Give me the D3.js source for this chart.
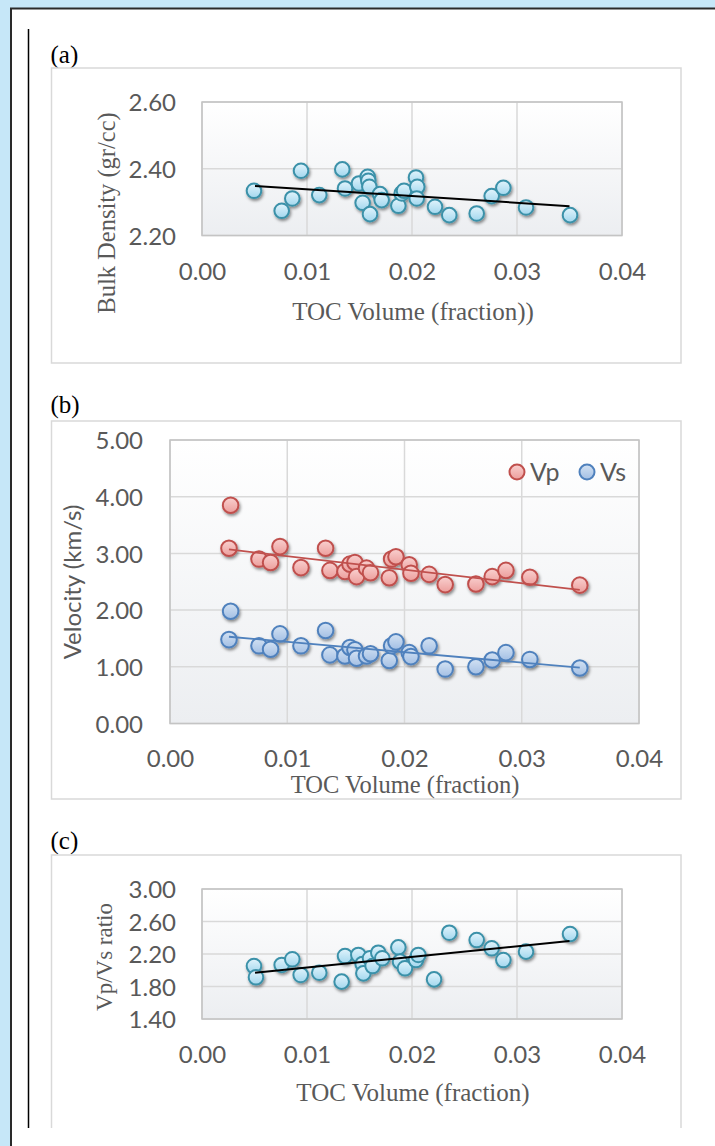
<!DOCTYPE html>
<html>
<head>
<meta charset="utf-8">
<script src="https://cdn.jsdelivr.net/npm/d3@7"></script>
<style>
  html, body { margin: 0; padding: 0; background: #c6e7f8; }
  svg { display: block; }
</style>
</head>
<body>
<script>
// ---------------- DATA ----------------
const xTicks = [0, 0.01, 0.02, 0.03, 0.04];

// (a) Bulk density vs TOC
const densityTOC = [0.00495, 0.00759, 0.0086, 0.00943, 0.01117, 0.01336, 0.01362, 0.01495, 0.0153, 0.01578, 0.01584, 0.01594, 0.016, 0.01695, 0.01711, 0.0187, 0.01902, 0.01924, 0.02038, 0.0205, 0.02045, 0.02219, 0.02355, 0.02616, 0.02759, 0.0287, 0.03086, 0.03505];
const densityValues = [2.334, 2.274, 2.311, 2.394, 2.321, 2.398, 2.341, 2.356, 2.298, 2.376, 2.364, 2.346, 2.264, 2.324, 2.306, 2.289, 2.326, 2.334, 2.374, 2.346, 2.311, 2.286, 2.261, 2.266, 2.318, 2.343, 2.284, 2.261];
const densityTicks = [2.2, 2.4, 2.6];
const densityTrendTOC = [0.00505, 0.035];
const densityTrendValues = [2.348, 2.288];

// (b) Velocity vs TOC
const velocityTOC = [0.00517, 0.00503, 0.00759, 0.00858, 0.00938, 0.01117, 0.01327, 0.01364, 0.01492, 0.01535, 0.01577, 0.01591, 0.01676, 0.0171, 0.0187, 0.0189, 0.01927, 0.0204, 0.02055, 0.0221, 0.02347, 0.02609, 0.02748, 0.02865, 0.03069, 0.03495];
const vpValues = [3.85, 3.09, 2.90, 2.84, 3.12, 2.75, 3.09, 2.70, 2.68, 2.81, 2.84, 2.59, 2.74, 2.66, 2.57, 2.90, 2.94, 2.80, 2.65, 2.63, 2.45, 2.46, 2.59, 2.70, 2.58, 2.44];
const vsValues = [1.98, 1.48, 1.37, 1.31, 1.58, 1.37, 1.64, 1.21, 1.19, 1.34, 1.30, 1.15, 1.19, 1.23, 1.11, 1.37, 1.44, 1.25, 1.18, 1.37, 0.96, 1.00, 1.12, 1.25, 1.13, 0.98];
const velocityTicks = [0, 1, 2, 3, 4, 5];
const velocityTrendTOC = [0.00503, 0.03495];
const vpTrendValues = [3.07, 2.355];
const vsTrendValues = [1.53, 0.985];
const velocitySeries = ["Vp", "Vs"];

// (c) Vp/Vs ratio vs TOC
const ratioTOC = [0.00495, 0.00514, 0.00759, 0.0086, 0.0094, 0.01117, 0.0133, 0.01362, 0.01489, 0.0153, 0.01537, 0.016, 0.01625, 0.01679, 0.01717, 0.0187, 0.01886, 0.01933, 0.02038, 0.0206, 0.0221, 0.02355, 0.02616, 0.02759, 0.0287, 0.03086, 0.03505];
const ratioValues = [2.052, 1.913, 2.065, 2.135, 1.942, 1.970, 1.86, 2.175, 2.188, 2.077, 1.962, 2.147, 2.052, 2.216, 2.147, 2.282, 2.106, 2.024, 2.126, 2.188, 1.888, 2.462, 2.372, 2.27, 2.126, 2.229, 2.446];
const ratioTicks = [1.4, 1.8, 2.2, 2.6, 3.0];
const ratioTrendTOC = [0.00505, 0.035];
const ratioTrendValues = [1.97, 2.36];

// ---------------- DRAWING ----------------
const W = 715, H = 1146;
const svg = d3.select("body").append("svg").attr("width", W).attr("height", H);
const defs = svg.append("defs");

function vGrad(id, top, bottom) {
  const g = defs.append("linearGradient").attr("id", id).attr("x1", 0).attr("y1", 0).attr("x2", 0).attr("y2", 1);
  g.append("stop").attr("offset", "0%").attr("stop-color", top);
  g.append("stop").attr("offset", "100%").attr("stop-color", bottom);
}
vGrad("plotBg", "#ffffff", "#eceef1");
vGrad("tealFill", "#e2f4fc", "#a2d7ee");
vGrad("redFill", "#f9d0cf", "#ec9e9c");
vGrad("blueFill", "#d3e2f3", "#a3bfe4");

const sh = defs.append("filter").attr("id", "shadow").attr("x", "-50%").attr("y", "-50%").attr("width", "200%").attr("height", "200%");
sh.append("feDropShadow").attr("dx", 1.2).attr("dy", 2).attr("stdDeviation", 1.4)
  .attr("flood-color", "#000").attr("flood-opacity", 0.45);

// page frame
svg.append("rect").attr("x", 11).attr("y", 9).attr("width", W).attr("height", H).attr("fill", "#fff");
svg.append("line").attr("x1", 10).attr("x2", W).attr("y1", 8.5).attr("y2", 8.5).attr("stroke", "#2a2a2a").attr("stroke-width", 2);
svg.append("line").attr("x1", 11).attr("x2", 11).attr("y1", 8).attr("y2", H).attr("stroke", "#2a2a2a").attr("stroke-width", 2);
svg.append("line").attr("x1", 28.5).attr("x2", 28.5).attr("y1", 29).attr("y2", 1128).attr("stroke", "#000").attr("stroke-width", 1.5);

const tickFont = "Lato, 'Open Sans', sans-serif";
const serif = "'Liberation Serif', 'Times New Roman', serif";
const gray = "#595959";

function panel(cfg) {
  const g = svg.append("g");
  // panel label
  g.append("text").attr("x", cfg.box.x - 1).attr("y", cfg.labelY)
    .attr("font-family", serif).attr("font-size", 25).attr("fill", "#000").text(cfg.label);
  // chart box
  g.append("rect").attr("x", cfg.box.x).attr("y", cfg.box.y).attr("width", cfg.box.w).attr("height", cfg.box.h)
    .attr("fill", "#fff").attr("stroke", "#d9d9d9").attr("stroke-width", 1.5);

  const x = d3.scaleLinear().domain([0, 0.04]).range([cfg.plot.l, cfg.plot.r]);
  const y = d3.scaleLinear().domain(cfg.yDomain).range([cfg.plot.b, cfg.plot.t]);

  g.append("rect").attr("x", cfg.plot.l).attr("y", cfg.plot.t)
    .attr("width", cfg.plot.r - cfg.plot.l).attr("height", cfg.plot.b - cfg.plot.t)
    .attr("fill", "url(#plotBg)");

  // gridlines
  g.append("g").selectAll("line").data(cfg.yTicks).join("line")
    .attr("x1", cfg.plot.l).attr("x2", cfg.plot.r).attr("y1", d => y(d)).attr("y2", d => y(d))
    .attr("stroke", "#d9d9d9").attr("stroke-width", 1.5);
  g.append("g").selectAll("line").data(xTicks).join("line")
    .attr("y1", cfg.plot.t).attr("y2", cfg.plot.b).attr("x1", d => x(d)).attr("x2", d => x(d))
    .attr("stroke", "#d9d9d9").attr("stroke-width", 1.5);
  g.append("rect").attr("x", cfg.plot.l).attr("y", cfg.plot.t)
    .attr("width", cfg.plot.r - cfg.plot.l).attr("height", cfg.plot.b - cfg.plot.t)
    .attr("fill", "none").attr("stroke", "#c4c4c4").attr("stroke-width", 1.5);

  // axes via d3 axis generators (labels only)
  const yAxis = d3.axisLeft(y).tickValues(cfg.yTicks).tickFormat(d3.format(".2f")).tickSize(0).tickPadding(0);
  const ya = g.append("g").attr("transform", `translate(${cfg.yLabelX},0)`).call(yAxis);
  const xAxis = d3.axisBottom(x).tickValues(xTicks).tickFormat(d3.format(".2f")).tickSize(0).tickPadding(0);
  const xa = g.append("g").attr("transform", `translate(0,${cfg.xLabelY})`).call(xAxis);
  [ya, xa].forEach(a => {
    a.select(".domain").remove();
    a.selectAll("text").attr("font-family", tickFont).attr("font-size", 24).attr("fill", gray);
  });
  ya.selectAll("text").attr("dy", "0.36em");
  xa.selectAll("text").attr("dy", 0);

  // titles
  g.append("text").attr("x", cfg.xTitle.x).attr("y", cfg.xTitle.y).attr("text-anchor", "middle")
    .attr("font-family", serif).attr("font-size", cfg.xTitle.size).attr("fill", gray).text(cfg.xTitle.text);
  g.append("text").attr("transform", `translate(${cfg.yTitle.x},${cfg.yTitle.y}) rotate(-90)`).attr("text-anchor", "middle")
    .attr("font-family", cfg.yTitle.font).attr("font-size", cfg.yTitle.size).attr("fill", gray).text(cfg.yTitle.text);

  // series
  cfg.series.forEach(s => {
    const pts = s.xs.map((v, i) => [v, s.ys[i]]);
    g.append("g").attr("filter", "url(#shadow)").selectAll("circle").data(pts).join("circle")
      .attr("cx", d => x(d[0])).attr("cy", d => y(d[1])).attr("r", s.r)
      .attr("fill", s.fill).attr("stroke", s.stroke).attr("stroke-width", 2);
  });
  cfg.trends.forEach(t => {
    const line = d3.line().x(d => x(d[0])).y(d => y(d[1]));
    g.append("path").attr("d", line(t.xs.map((v, i) => [v, t.ys[i]])))
      .attr("fill", "none").attr("stroke", t.color).attr("stroke-width", t.width);
  });
  return { g, x, y };
}

// (a)
panel({
  label: "(a)", labelY: 63,
  box: { x: 51.5, y: 68, w: 629.5, h: 295 },
  plot: { l: 202, t: 102, r: 622, b: 235.5 },
  yDomain: [2.2, 2.6], yTicks: densityTicks,
  yLabelX: 176, xLabelY: 280,
  xTitle: { text: "TOC Volume (fraction))", x: 413, y: 320, size: 25 },
  yTitle: { text: "Bulk Density (gr/cc)", x: 115, y: 213, size: 24.5, font: serif },
  series: [{ xs: densityTOC, ys: densityValues, r: 7.3, fill: "url(#tealFill)", stroke: "#3b91a9" }],
  trends: [{ xs: densityTrendTOC, ys: densityTrendValues, color: "#000", width: 2 }]
});

// (b)
const pb = panel({
  label: "(b)", labelY: 413,
  box: { x: 51.5, y: 421, w: 629.5, h: 378 },
  plot: { l: 170, t: 440, r: 639, b: 723.5 },
  yDomain: [0, 5], yTicks: velocityTicks,
  yLabelX: 143, xLabelY: 767,
  xTitle: { text: "TOC Volume (fraction)", x: 405, y: 793, size: 24.5 },
  yTitle: { text: "Velocity (km/s)", x: 81, y: 582, size: 24, font: tickFont },
  series: [
    { xs: velocityTOC, ys: vpValues, r: 7.8, fill: "url(#redFill)", stroke: "#c0504d" },
    { xs: velocityTOC, ys: vsValues, r: 7.8, fill: "url(#blueFill)", stroke: "#4f81bd" }
  ],
  trends: [
    { xs: velocityTrendTOC, ys: vpTrendValues, color: "#c0504d", width: 1.8 },
    { xs: velocityTrendTOC, ys: vsTrendValues, color: "#4f81bd", width: 1.8 }
  ]
});
// legend for (b)
const legendFills = ["url(#redFill)", "url(#blueFill)"];
const legendStrokes = ["#c0504d", "#4f81bd"];
const legendX = [517, 587];
const lg = pb.g.append("g");
velocitySeries.forEach((name, i) => {
  lg.append("circle").attr("cx", legendX[i]).attr("cy", 472).attr("r", 7.5)
    .attr("fill", legendFills[i]).attr("stroke", legendStrokes[i]).attr("stroke-width", 2);
  lg.append("text").attr("x", legendX[i] + 13).attr("y", 481)
    .attr("font-family", tickFont).attr("font-size", 25).attr("fill", gray).text(name);
});

// (c)
panel({
  label: "(c)", labelY: 849,
  box: { x: 51.5, y: 855, w: 629.5, h: 290 },
  plot: { l: 202, t: 889, r: 622, b: 1019 },
  yDomain: [1.4, 3.0], yTicks: ratioTicks,
  yLabelX: 176, xLabelY: 1063,
  xTitle: { text: "TOC Volume (fraction)", x: 413, y: 1101, size: 25 },
  yTitle: { text: "Vp/Vs ratio", x: 112, y: 957, size: 23, font: serif },
  series: [{ xs: ratioTOC, ys: ratioValues, r: 7.3, fill: "url(#tealFill)", stroke: "#3b91a9" }],
  trends: [{ xs: ratioTrendTOC, ys: ratioTrendValues, color: "#000", width: 2 }]
});
// white strip hides panel (c) box bottom like the reference
svg.append("rect").attr("x", 40).attr("y", 1128).attr("width", 660).attr("height", 20).attr("fill", "#fff");
</script>
</body>
</html>
